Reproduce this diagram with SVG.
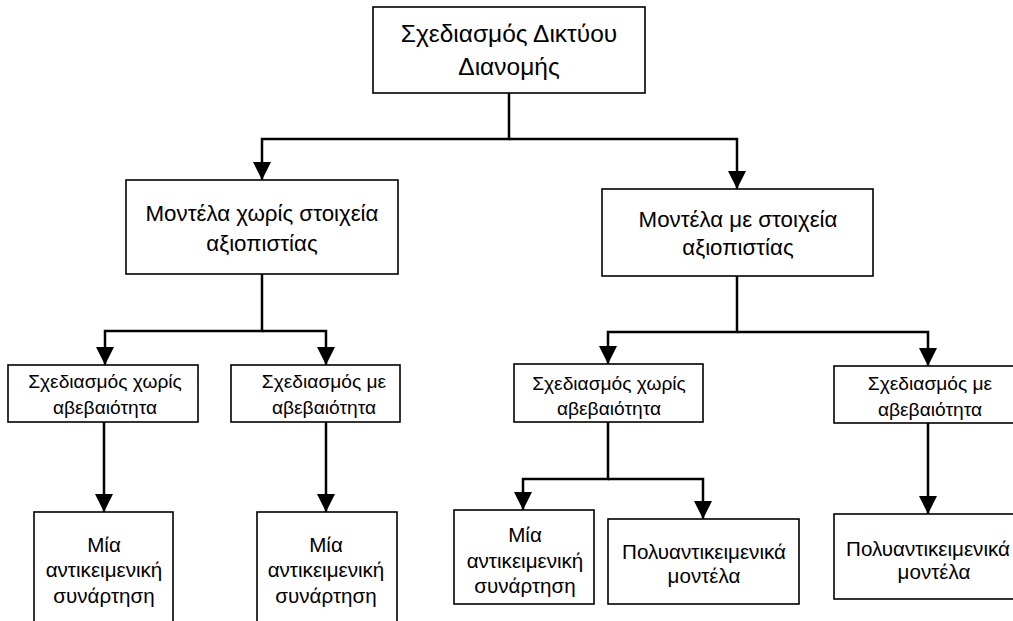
<svg xmlns="http://www.w3.org/2000/svg" width="1013" height="621" viewBox="0 0 1013 621">
<style>
.box{fill:#fff;stroke:#000;stroke-width:1.6}
.t{font-family:"Liberation Sans",Arial,sans-serif;fill:#000;text-anchor:middle}
.t1{font-size:24.5px}
.t2{font-size:22.3px}
.t3{font-size:19.2px}
.t4{font-size:20.6px}
.c{fill:none;stroke:#000;stroke-width:2.5;marker-end:url(#ah)}
</style>
<defs>
<marker id="ah" markerUnits="userSpaceOnUse" markerWidth="18" markerHeight="18" refX="18" refY="9" orient="auto" viewBox="0 0 18 18">
<path d="M0,0 L18,9 L0,18 z" fill="#000"/>
</marker>
</defs>
<rect width="1013" height="621" fill="#fff"/>
<g id="connectors">
<path class="c" d="M509,93 V139 H262 V180"/>
<path class="c" d="M509,139 H737 V189"/>
<path class="c" d="M262,274 V331 H105 V365"/>
<path class="c" d="M262,331 H326 V365"/>
<path class="c" d="M737,276 V332 H608 V364"/>
<path class="c" d="M737,332 H928 V366"/>
<path class="c" d="M104,422 V512"/>
<path class="c" d="M326,422 V512"/>
<path class="c" d="M608,422 V479 H523 V510"/>
<path class="c" d="M608,479 H703 V519"/>
<path class="c" d="M928,423 V514"/>
</g>
<g id="n-root">
<rect class="box" x="373" y="7" width="272" height="86"/>
<text class="t t1" x="509" y="42">Σχεδιασμός Δικτύου</text>
<text class="t t1" x="509" y="75">Διανομής</text>
</g>
<g id="n-without">
<rect class="box" x="126" y="180" width="272" height="94"/>
<text class="t t2" x="262" y="221">Μοντέλα χωρίς στοιχεία</text>
<text class="t t2" x="262" y="251">αξιοπιστίας</text>
</g>
<g id="n-with">
<rect class="box" x="602" y="189" width="271" height="87"/>
<text class="t t2" x="738" y="227">Μοντέλα με στοιχεία</text>
<text class="t t2" x="738" y="255">αξιοπιστίας</text>
</g>
<g id="n-a">
<rect class="box" x="8" y="365" width="190" height="57"/>
<text class="t t3" x="105" y="388">Σχεδιασμός χωρίς</text>
<text class="t t3" x="105" y="414">αβεβαιότητα</text>
</g>
<g id="n-b">
<rect class="box" x="231" y="365" width="169" height="57"/>
<text class="t t3" x="324" y="388">Σχεδιασμός με</text>
<text class="t t3" x="324" y="414">αβεβαιότητα</text>
</g>
<g id="n-c">
<rect class="box" x="514" y="364" width="189" height="58"/>
<text class="t t3" x="609" y="390">Σχεδιασμός χωρίς</text>
<text class="t t3" x="609" y="415">αβεβαιότητα</text>
</g>
<g id="n-d">
<rect class="box" x="834" y="366" width="192" height="57"/>
<text class="t t3" x="930" y="390">Σχεδιασμός με</text>
<text class="t t3" x="930" y="416">αβεβαιότητα</text>
</g>
<g id="n-e">
<rect class="box" x="34" y="512" width="139" height="120"/>
<text class="t t4" x="104" y="552">Μία</text>
<text class="t t4" x="104" y="577">αντικειμενική</text>
<text class="t t4" x="104" y="603">συνάρτηση</text>
</g>
<g id="n-f">
<rect class="box" x="257" y="512" width="140" height="120"/>
<text class="t t4" x="326" y="552">Μία</text>
<text class="t t4" x="326" y="577">αντικειμενική</text>
<text class="t t4" x="326" y="603">συνάρτηση</text>
</g>
<g id="n-g">
<rect class="box" x="454" y="510" width="140" height="94"/>
<text class="t t4" x="525" y="542">Μία</text>
<text class="t t4" x="525" y="568">αντικειμενική</text>
<text class="t t4" x="525" y="593">συνάρτηση</text>
</g>
<g id="n-h">
<rect class="box" x="608" y="519" width="191" height="85"/>
<text class="t t4" x="704" y="559">Πολυαντικειμενικά</text>
<text class="t t4" x="704" y="583">μοντέλα</text>
</g>
<g id="n-i">
<rect class="box" x="834" y="514" width="196" height="85"/>
<text class="t t4" x="928" y="556">Πολυαντικειμενικά</text>
<text class="t t4" x="934" y="579">μοντέλα</text>
</g>
</svg>
